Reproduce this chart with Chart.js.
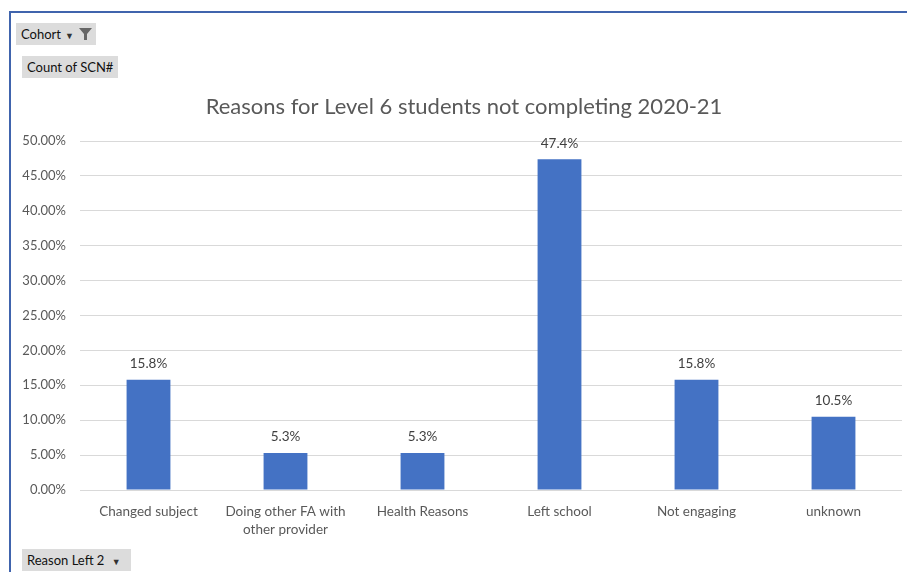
<!DOCTYPE html>
<html>
<head>
<meta charset="utf-8">
<script src="https://cdn.jsdelivr.net/npm/chart.js@4.4.1/dist/chart.umd.min.js"></script>
<style>
  html, body { margin: 0; padding: 0; background: #fff; overflow: hidden; }
  #wrap { position: relative; width: 907px; height: 572px; }
  #chart { position: absolute; left: 0; top: 0; }
  .frame-top { position: absolute; left: 9px; top: 11px; width: 898px; height: 2px; background: #4064ad; }
  .frame-left { position: absolute; left: 9px; top: 11px; width: 2px; height: 561px; background: #4064ad; }
  .btn {
    position: absolute; background: #dcdcdc; color: #111;
    font: 13px Lato, sans-serif; line-height: 22px; height: 22px;
    padding: 0 5px; white-space: nowrap; box-sizing: border-box;
  }
  .btn .arr { font-size: 9px; color: #333; margin-left: 4px; }
</style>
</head>
<body>
<div id="wrap">
  <canvas id="chart" width="907" height="572"></canvas>
  <div class="frame-top"></div>
  <div class="frame-left"></div>
  <div class="btn" style="left:16px; top:23px; width:80px;">Cohort<span class="arr">&#9660;</span>
    <svg width="13" height="12" style="position:absolute; right:4px; top:5px;" viewBox="0 0 13 12">
      <path d="M0 0 H13 L8 6 V12 H5 V6 Z" fill="#666"/>
    </svg>
  </div>
  <div class="btn" style="left:22px; top:56px;">Count of SCN#</div>
  <div class="btn" style="left:22px; top:549px; width:109px;">Reason Left 2 <span class="arr">&#9660;</span></div>
</div>
<script>
(function() {
  'use strict';

  const categories = ['Changed subject', ['Doing other FA with', 'other provider'], 'Health Reasons', 'Left school', 'Not engaging', 'unknown'];
  const shares = [15.8, 5.3, 5.3, 47.4, 15.8, 10.5];
  const barLabels = ['15.8%', '5.3%', '5.3%', '47.4%', '15.8%', '10.5%'];
  const chartTitle = 'Reasons for Level 6 students not completing 2020-21';

  const font = 'Lato, "Open Sans", sans-serif';

  // title centred on the whole chart frame (Excel style), not on the plot area
  const frameTitle = {
    id: 'frameTitle',
    afterDraw(chart) {
      const ctx = chart.ctx;
      ctx.save();
      ctx.fillStyle = '#595959';
      ctx.font = '22px ' + font;
      ctx.textAlign = 'center';
      ctx.textBaseline = 'middle';
      ctx.fillText(chartTitle, 464, 107);
      ctx.restore();
    }
  };

  const valueLabels = {
    id: 'valueLabels',
    afterDatasetsDraw(chart) {
      const ctx = chart.ctx;
      const meta = chart.getDatasetMeta(0);
      ctx.save();
      ctx.fillStyle = '#404040';
      ctx.font = '13.5px ' + font;
      ctx.textAlign = 'center';
      ctx.textBaseline = 'middle';
      meta.data.forEach(function(bar, i) {
        ctx.fillText(barLabels[i], bar.x, bar.y - 16);
      });
      ctx.restore();
    }
  };

  new Chart(document.getElementById('chart'), {
    type: 'bar',
    data: {
      labels: categories,
      datasets: [{
        data: shares,
        backgroundColor: '#4472c4',
        barPercentage: 0.32,
        categoryPercentage: 1
      }]
    },
    options: {
      responsive: false,
      animation: false,
      layout: { padding: { left: 12, right: 5, top: 141, bottom: 0 } },
      plugins: {
        legend: { display: false },
        tooltip: { enabled: false },
        title: { display: false }
      },
      scales: {
        x: {
          grid: { display: false },
          border: { display: false },
          ticks: {
            color: '#595959',
            font: { family: font, size: 13.5, lineHeight: 1.3 },
            padding: 5,
            maxRotation: 0,
            autoSkip: false
          },
          afterFit(scale) { scale.height = 82; }
        },
        y: {
          min: 0,
          max: 50,
          grid: { color: '#d9d9d9', drawTicks: false },
          border: { display: false },
          ticks: {
            stepSize: 5,
            color: '#595959',
            font: { family: font, size: 13 },
            padding: 14,
            callback: function(v) { return v.toFixed(2) + '%'; }
          },
          afterFit(scale) { scale.width = 68; }
        }
      }
    },
    plugins: [valueLabels, frameTitle]
  });
})();
</script>
</body>
</html>
